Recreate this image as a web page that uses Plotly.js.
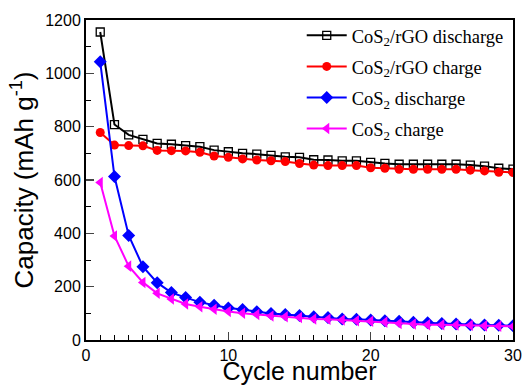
<!DOCTYPE html>
<html>
<head>
<meta charset="utf-8">
<script src="https://cdn.plot.ly/plotly-3.0.1.min.js"></script>
<style>html,body{margin:0;padding:0;background:#fff;}#chart{width:530px;height:385px;}</style>
</head>
<body>
<div id="chart"></div>
<script>
const cycles = [1,2,3,4,5,6,7,8,9,10,11,12,13,14,15,16,17,18,19,20,21,22,23,24,25,26,27,28,29,30];
const rgoDischarge = [1155,808,769,752,737,734,729,725,712,706,700,697,692,687,685,676,675,672,672,666,662,659,659,659,659,659,656,652,644,641];
const rgoCharge = [778,731,729,728,711,710,709,704,690,685,679,675,672,669,662,656,654,654,654,646,644,640,640,640,640,640,637,634,629,628];
const cosDischarge = [1043,613,392,275,215,178,159,142,130,120,114,106,99,96,92,87,84,79,78,75,72,70,67,65,62,60,57,56,55,53];
const cosCharge = [591,390,277,216,175,154,135,125,115,107,100,96,90,87,84,79,78,75,72,70,67,62,60,57,57,56,55,53,52,51];
const seriesNames = ['CoS<sub>2</sub>/rGO discharge','CoS<sub>2</sub>/rGO charge','CoS<sub>2</sub> discharge','CoS<sub>2</sub> charge'];

const traces = [
  {x: cycles, y: rgoDischarge, name: seriesNames[0], legendgroup: 'g1', mode: 'lines+markers',
   line: {color: '#000000', width: 2},
   marker: {symbol: 'square-open', size: 8, color: '#000000', line: {width: 1.3}}},
  {x: cycles, y: rgoCharge, name: seriesNames[1], legendgroup: 'g2', mode: 'lines+markers',
   line: {color: '#ff0000', width: 2},
   marker: {symbol: 'circle', size: 9, color: '#ff0000'}},
  {x: cycles, y: cosDischarge, name: seriesNames[2], legendgroup: 'g3', mode: 'lines+markers',
   line: {color: '#0000ff', width: 2},
   marker: {symbol: 'diamond', size: 10, color: '#0000ff'}},
  {x: cycles, y: cosCharge, name: seriesNames[3], legendgroup: 'g4', mode: 'lines+markers',
   line: {color: '#ff00ff', width: 2},
   marker: {symbol: 'triangle-left', size: 10, color: '#ff00ff'}}
];

const axisFont = {family: 'Liberation Sans, Arial, sans-serif', size: 16, color: '#000'};
const titleFont = {family: 'Liberation Sans, Arial, sans-serif', size: 25, color: '#000'};
const layout = {
  width: 530, height: 385,
  margin: {l: 86, r: 17, t: 20, b: 45},
  paper_bgcolor: '#fff', plot_bgcolor: '#fff',
  showlegend: true,
  legend: {x: 0.99, y: 1.01, xanchor: 'right', yanchor: 'top',
    bgcolor: 'rgba(0,0,0,0)', borderwidth: 0,
    font: {family: 'Liberation Serif, Times New Roman, serif', size: 18.5, color: '#000'},
    tracegroupgap: 4, itemwidth: 40},
  xaxis: {range: [0, 30], tickvals: [0,10,20,30], ticks: 'inside', ticklen: 8, tickwidth: 1.5,
    minor: {dtick: 1, ticks: 'inside', ticklen: 5, tickwidth: 1, tickcolor: '#000'},
    showline: true, linewidth: 2, linecolor: '#000', mirror: true, showgrid: false, zeroline: false,
    tickfont: axisFont, automargin: false,
    title: {text: 'Cycle number', font: titleFont, standoff: 0}},
  yaxis: {range: [0, 1200], dtick: 200, ticks: 'inside', ticklen: 8, tickwidth: 1.5,
    minor: {dtick: 100, ticks: 'inside', ticklen: 5, tickwidth: 1, tickcolor: '#000'},
    showline: true, linewidth: 2, linecolor: '#000', mirror: true, showgrid: false, zeroline: false,
    tickfont: axisFont, automargin: false,
    title: {text: 'Capacity (mAh g<sup>-1</sup>)', font: {family: 'Liberation Sans, Arial, sans-serif', size: 26, color: '#000'}, standoff: 4}}
};

Plotly.newPlot('chart', traces, layout, {displayModeBar: false, staticPlot: true});
</script>
</body>
</html>
